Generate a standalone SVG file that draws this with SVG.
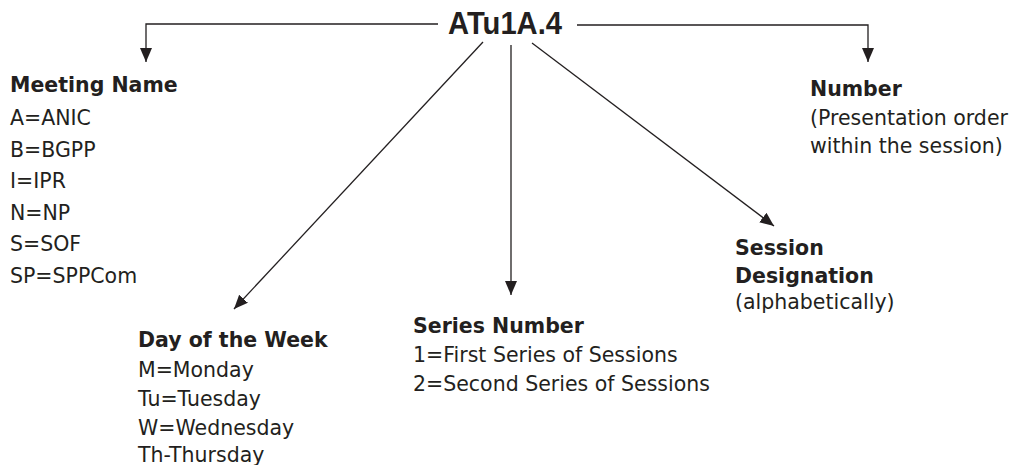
<svg xmlns="http://www.w3.org/2000/svg" width="1019" height="465" viewBox="0 0 1019 465">
<defs>
<style>
text{font-family:"DejaVu Sans",sans-serif;fill:#231f20;font-size:20.5px}
.h{font-weight:bold;font-size:20.5px}
.t{font-family:"Liberation Sans",Arial,sans-serif;font-weight:bold;font-size:31px}
.c{fill:none;stroke:#231f20;stroke-width:1.3}
</style>
<marker id="ah" markerUnits="userSpaceOnUse" markerWidth="15" markerHeight="13" refX="14" refY="6" orient="auto">
<path d="M0,0 L14,6 L0,12 z" fill="#231f20"/>
</marker>
</defs>
<rect width="1019" height="465" fill="#fff"/>
<g id="connectors">
<polyline class="c" points="438,24 146,24 146,62" marker-end="url(#ah)"/>
<polyline class="c" points="577,25 868,25 868,62" marker-end="url(#ah)"/>
<line class="c" x1="483" y1="42" x2="234" y2="309" marker-end="url(#ah)"/>
<line class="c" x1="511" y1="45" x2="511" y2="295" marker-end="url(#ah)"/>
<line class="c" x1="532" y1="43" x2="774" y2="226" marker-end="url(#ah)"/>
</g>
<g id="code">
<text class="t" x="448" y="34" textLength="114" lengthAdjust="spacingAndGlyphs">ATu1A.4</text>
</g>
<g id="meeting-name">
<text class="h" x="10" y="92">Meeting Name</text>
<text x="10" y="125">A=ANIC</text>
<text x="10" y="157">B=BGPP</text>
<text x="10" y="188">I=IPR</text>
<text x="10" y="220">N=NP</text>
<text x="10" y="251">S=SOF</text>
<text x="10" y="283">SP=SPPCom</text>
</g>
<g id="day-of-week">
<text class="h" x="138" y="347">Day of the Week</text>
<text x="138" y="377">M=Monday</text>
<text x="138" y="406">Tu=Tuesday</text>
<text x="138" y="435">W=Wednesday</text>
<text x="138" y="462">Th-Thursday</text>
</g>
<g id="series-number">
<text class="h" x="413" y="333">Series Number</text>
<text x="413" y="362">1=First Series of Sessions</text>
<text x="413" y="391">2=Second Series of Sessions</text>
</g>
<g id="session-designation">
<text class="h" x="735" y="255">Session</text>
<text class="h" x="735" y="283">Designation</text>
<text x="735" y="309">(alphabetically)</text>
</g>
<g id="number">
<text class="h" x="810" y="96">Number</text>
<text x="810" y="125">(Presentation order</text>
<text x="810" y="153">within the session)</text>
</g>
</svg>
